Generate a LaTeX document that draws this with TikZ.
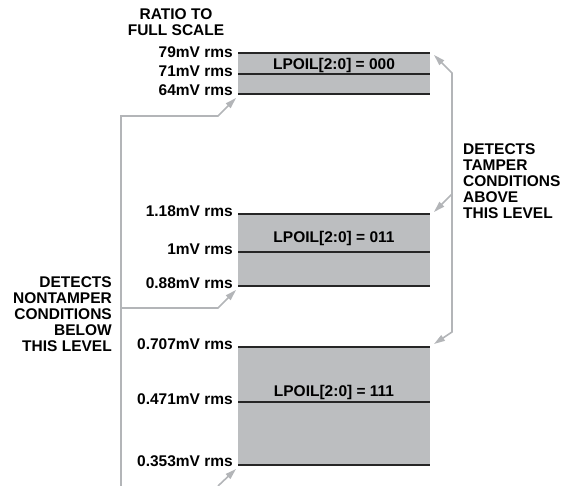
\documentclass[tikz,border=0pt]{standalone}
\usepackage{fontspec}
\setmainfont{Liberation Sans}
\usetikzlibrary{positioning, arrows.meta}
\definecolor{barfill}{HTML}{BCBEC0}
\definecolor{leadgray}{HTML}{B3B5B8}

\begin{document}
\begin{tikzpicture}[x=1pt, y=-1pt,
    txt/.style={font=\bfseries\fontsize{15.5}{16}\selectfont, inner sep=0pt},
    lvl/.style={txt, anchor=base east},
    lead/.style={draw=leadgray, line width=1.6pt, -{Triangle[length=11pt, width=6.5pt]}},
    level/.style={line width=2pt, black!85}]
    \useasboundingbox (0,0) rectangle (566,486);

    % Bars
    \fill[barfill] (238,53) rectangle (430,94);
    \fill[barfill] (238,214) rectangle (430,286);
    \fill[barfill] (238,347) rectangle (430,465);
    \foreach \y in {53,74,94,214,252,286,347,402,465}
        \draw[level] (238,\y) -- (430,\y);

    % Labels
    \node[txt, align=center] (ratio) at (176,22) {RATIO TO\\FULL SCALE};

    \node[lvl] (v79) at (233,58) {79mV rms};
    \node[lvl] (v71) at (233,77) {71mV rms};
    \node[lvl] (v64) at (233,96) {64mV rms};
    \node[lvl] (v118) at (233,217) {1.18mV rms};
    \node[lvl] (v1) at (233,255) {1mV rms};
    \node[lvl] (v088) at (233,289) {0.88mV rms};
    \node[lvl] (v0707) at (233,350) {0.707mV rms};
    \node[lvl] (v0471) at (233,405) {0.471mV rms};
    \node[lvl] (v0353) at (233,467) {0.353mV rms};

    \node[txt, anchor=base] (code000) at (334,70) {LPOIL[2:0] = 000};
    \node[txt, anchor=base] (code011) at (334,243) {LPOIL[2:0] = 011};
    \node[txt, anchor=base] (code111) at (334,397) {LPOIL[2:0] = 111};

    \node[txt, align=left, anchor=west] (tamper) at (463,181) {DETECTS\\TAMPER\\CONDITIONS\\ABOVE\\THIS LEVEL};
    \node[txt, align=right, anchor=east] (nontamper) at (112,314) {DETECTS\\NONTAMPER\\CONDITIONS\\BELOW\\THIS LEVEL};

    % Arrow ends
    \coordinate (t64) at (236,98);
    \coordinate (t088) at (236,290);
    \coordinate (t0353) at (236,469);
    \coordinate (t79) at (434,55);
    \coordinate (t118) at (434,212);
    \coordinate (t0707) at (434,344);
    \coordinate (lbot) at (121,486);
    \coordinate (lmid) at (121,308);
    \coordinate (bbot) at (218,486);
    \coordinate (rmid) at (452,194);

    % Leaders, nontamper side
    \draw[lead] (lbot) -- (121,116) -- (218,116) -- (t64);
    \draw[lead] (lmid) -- (218,308) -- (t088);
    \draw[lead] (bbot) -- (t0353);

    % Leaders, tamper side
    \draw[lead] (rmid) -- (452,73) -- (t79);
    \draw[lead] (rmid) -- (452,332) -- (t0707);
    \draw[lead] (rmid) -- (t118);
\end{tikzpicture}
\end{document}
